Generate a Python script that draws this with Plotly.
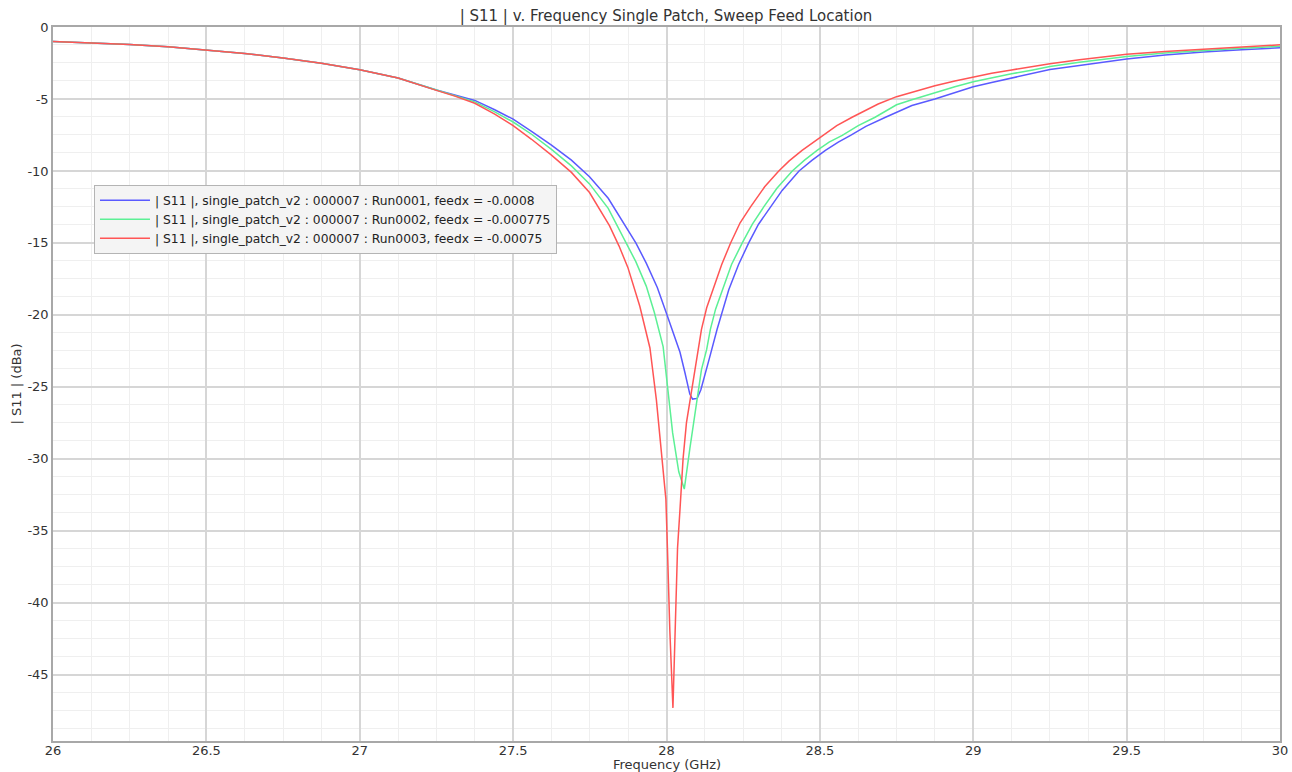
import plotly.graph_objects as go

# Frequency sweep (GHz) and |S11| (dB) for the three feed positions
freq_run1 = [26.000, 26.125, 26.250, 26.375, 26.500, 26.625, 26.750, 26.875, 27.000,
             27.125, 27.250, 27.310, 27.375, 27.440, 27.500, 27.560, 27.625, 27.690,
             27.749, 27.810, 27.869, 27.900, 27.934, 27.970, 28.000, 28.022, 28.044,
             28.060, 28.076, 28.085, 28.100, 28.112, 28.120, 28.140, 28.165, 28.203,
             28.235, 28.268, 28.300, 28.339, 28.377, 28.432, 28.475, 28.518, 28.560,
             28.600, 28.650, 28.714, 28.750, 28.800, 28.875, 28.940, 29.000, 29.060,
             29.125, 29.190, 29.250, 29.346, 29.420, 29.500, 29.625, 29.750, 29.875,
             30.000]
s11_run1 = [-1.00, -1.10, -1.22, -1.38, -1.59, -1.84, -2.15, -2.52, -2.97,
            -3.55, -4.38, -4.70, -5.10, -5.75, -6.40, -7.25, -8.20, -9.25,
            -10.40, -11.90, -13.90, -15.00, -16.40, -18.10, -19.90, -21.20, -22.60,
            -24.00, -25.50, -25.85, -25.80, -25.20, -24.60, -23.00, -21.00, -18.25,
            -16.50, -15.00, -13.70, -12.50, -11.35, -10.00, -9.25, -8.57, -8.00,
            -7.53, -6.90, -6.27, -5.92, -5.45, -5.00, -4.55, -4.15, -3.85,
            -3.55, -3.25, -2.96, -2.68, -2.45, -2.22, -1.95, -1.73, -1.58,
            -1.45]

freq_run2 = [26.000, 26.125, 26.250, 26.375, 26.500, 26.625, 26.750, 26.875, 27.000,
             27.125, 27.250, 27.310, 27.375, 27.440, 27.500, 27.560, 27.625, 27.690,
             27.749, 27.810, 27.869, 27.900, 27.934, 27.960, 27.989, 28.005, 28.020,
             28.040, 28.046, 28.058, 28.076, 28.098, 28.114, 28.131, 28.143, 28.160,
             28.182, 28.212, 28.247, 28.280, 28.317, 28.360, 28.410, 28.450, 28.491,
             28.530, 28.573, 28.625, 28.680, 28.750, 28.800, 28.875, 28.940, 29.000,
             29.060, 29.125, 29.190, 29.250, 29.346, 29.420, 29.500, 29.625, 29.750,
             29.875, 30.000]
s11_run2 = [-1.00, -1.10, -1.22, -1.38, -1.59, -1.84, -2.15, -2.52, -2.97,
            -3.55, -4.38, -4.75, -5.20, -5.90, -6.60, -7.45, -8.50, -9.65,
            -10.90, -12.60, -15.00, -16.30, -18.00, -19.80, -22.20, -25.50, -28.20,
            -30.90, -31.30, -32.10, -29.30, -26.20, -23.80, -22.40, -21.00, -19.60,
            -18.25, -16.50, -15.00, -13.70, -12.50, -11.20, -10.00, -9.25, -8.57,
            -8.00, -7.53, -6.85, -6.27, -5.40, -5.05, -4.54, -4.15, -3.80,
            -3.52, -3.25, -3.00, -2.75, -2.45, -2.25, -2.05, -1.81, -1.63,
            -1.47, -1.34]

freq_run3 = [26.000, 26.125, 26.250, 26.375, 26.500, 26.625, 26.750, 26.875, 27.000,
             27.125, 27.250, 27.310, 27.375, 27.440, 27.500, 27.560, 27.625, 27.690,
             27.749, 27.814, 27.845, 27.874, 27.913, 27.946, 27.967, 27.978, 27.998,
             28.003, 28.011, 28.021, 28.027, 28.036, 28.044, 28.054, 28.065, 28.080,
             28.092, 28.103, 28.114, 28.131, 28.151, 28.180, 28.209, 28.240, 28.274,
             28.320, 28.366, 28.400, 28.442, 28.475, 28.508, 28.555, 28.605, 28.690,
             28.750, 28.810, 28.875, 28.940, 29.000, 29.060, 29.125, 29.190, 29.250,
             29.346, 29.420, 29.500, 29.625, 29.750, 29.875, 30.000]
s11_run3 = [-1.00, -1.10, -1.22, -1.38, -1.59, -1.84, -2.15, -2.52, -2.97,
            -3.55, -4.40, -4.80, -5.30, -6.05, -6.85, -7.80, -8.90, -10.10,
            -11.50, -13.80, -15.20, -16.70, -19.40, -22.30, -25.90, -28.20, -32.80,
            -36.20, -42.00, -47.30, -42.00, -36.20, -33.50, -30.00, -27.50, -25.60,
            -24.00, -22.40, -21.00, -19.50, -18.25, -16.50, -15.00, -13.60, -12.50,
            -11.10, -10.00, -9.30, -8.57, -8.05, -7.53, -6.85, -6.27, -5.35,
            -4.84, -4.45, -4.08, -3.75, -3.46, -3.22, -2.98, -2.75, -2.55,
            -2.28, -2.08, -1.90, -1.70, -1.53, -1.37, -1.24]

run_names = [
    "| S11 |, single_patch_v2 : 000007 : Run0001, feedx = -0.0008",
    "| S11 |, single_patch_v2 : 000007 : Run0002, feedx = -0.000775",
    "| S11 |, single_patch_v2 : 000007 : Run0003, feedx = -0.00075",
]
run_colors = ["#5a5aff", "#5cf095", "#ff5555"]

x_ticks = [26, 26.5, 27, 27.5, 28, 28.5, 29, 29.5, 30]
x_tick_text = ["26", "26.5", "27", "27.5", "28", "28.5", "29", "29.5", "30"]
y_ticks = [0, -5, -10, -15, -20, -25, -30, -35, -40, -45]
y_tick_text = ["0", "-5", "-10", "-15", "-20", "-25", "-30", "-35", "-40", "-45"]

FONT = "DejaVu Sans"

fig = go.Figure()
for fx, sy, name, col in zip([freq_run1, freq_run2, freq_run3],
                             [s11_run1, s11_run2, s11_run3],
                             run_names, run_colors):
    fig.add_trace(go.Scatter(x=fx, y=sy, mode="lines", name=name,
                             line=dict(color=col, width=1.5)))

axis_common = dict(
    showline=True, linecolor="#a8a8a8", linewidth=1.5, mirror=True,
    showgrid=True, gridcolor="#d6d6d6", gridwidth=1.5,
    zeroline=False, ticks="", automargin=False,
    tickfont=dict(family=FONT, size=13, color="#333333"),
)

fig.update_layout(
    width=1292, height=772,
    margin=dict(l=53, r=12, t=27, b=31),
    paper_bgcolor="white", plot_bgcolor="white",
    font=dict(family=FONT, color="#333333"),
    title=dict(text="| S11 | v. Frequency Single Patch, Sweep Feed Location",
               x=0.5155, xanchor="center", y=0.979, yanchor="middle",
               font=dict(family=FONT, size=15, color="#333333")),
    xaxis=dict(range=[26, 30], tickvals=x_ticks, ticktext=x_tick_text,
               ticklabelstandoff=-3,
               minor=dict(dtick=0.125, tick0=26, showgrid=True,
                          gridcolor="#efefef", gridwidth=1),
               **axis_common),
    yaxis=dict(range=[-49.6, 0], tickvals=y_ticks, ticktext=y_tick_text,
               minor=dict(dtick=1.25, tick0=0, showgrid=True,
                          gridcolor="#efefef", gridwidth=1),
               title=dict(text="| S11 | (dBa)", standoff=3,
                          font=dict(family=FONT, size=13, color="#333333")),
               **axis_common),
    legend=dict(x=0.0334, y=0.779, xanchor="left", yanchor="top",
                bgcolor="#f4f4f4", bordercolor="#b4b4b4", borderwidth=1,
                font=dict(family=FONT, size=12.3, color="#222222"),
                itemwidth=50, tracegroupgap=0),
    showlegend=True,
)

# x-axis title sits just under the tick labels, at the bottom edge of the page
fig.add_annotation(text="Frequency (GHz)", xref="paper", yref="paper",
                   x=0.5, y=-0.033, xanchor="center", yanchor="middle",
                   showarrow=False,
                   font=dict(family=FONT, size=13, color="#333333"))

fig.write_html("out.html")
